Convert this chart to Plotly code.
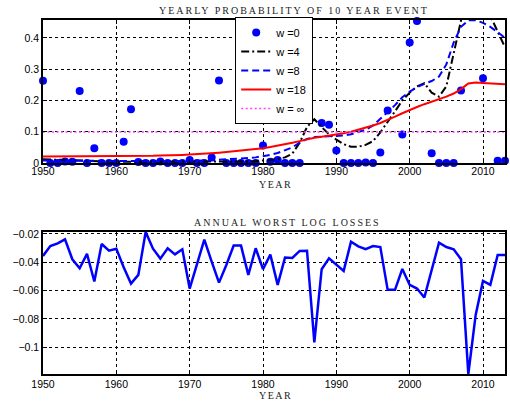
import plotly.graph_objects as go

# ---------------- data ----------------
years = list(range(1950, 2014))

# w = 0 : yearly estimates (None = above the plotted range)
w0 = [0.263, 0.0, 0.0, 0.005, 0.004, 0.230, 0.0, 0.047, 0.0, 0.0,
      0.0, 0.068, 0.172, 0.003, 0.0, 0.0, 0.005, 0.0, 0.0, 0.0,
      0.010, 0.0, 0.0, 0.018, 0.264, 0.0, 0.0, 0.0, 0.0, 0.0,
      0.056, 0.004, 0.010, 0.0, 0.0, 0.0, 0.140, None, 0.128, 0.122,
      0.040, 0.0, 0.0, 0.0, 0.002, 0.0, 0.034, 0.168, None, 0.091,
      0.385, 0.454, None, 0.031, 0.0, 0.0, 0.0, 0.232, None, None,
      0.271, None, 0.007, 0.007]

w4 = [0.012, 0.011, 0.010, 0.010, 0.009, 0.008, 0.006, 0.005, 0.004, 0.004,
      0.004, 0.004, 0.004, 0.004, 0.003, 0.003, 0.003, 0.003, 0.003, 0.004,
      0.004, 0.004, 0.004, 0.005, 0.005, 0.005, 0.005, 0.005, 0.005, 0.006,
      0.007, 0.010, 0.013, 0.018, 0.030, 0.065, 0.115, 0.140, 0.115, 0.092,
      0.075, 0.060, 0.052, 0.052, 0.058, 0.070, 0.098, 0.130, 0.165, 0.200,
      0.225, 0.245, 0.255, 0.225, 0.212, 0.245, 0.345, 0.440, 0.560, 0.570,
      0.520, 0.470, 0.415, 0.370]

w8 = [0.008, 0.008, 0.008, 0.008, 0.008, 0.008, 0.007, 0.007, 0.007, 0.006,
      0.006, 0.006, 0.006, 0.006, 0.006, 0.005, 0.005, 0.005, 0.005, 0.006,
      0.006, 0.007, 0.008, 0.009, 0.010, 0.011, 0.012, 0.014, 0.016, 0.018,
      0.021, 0.026, 0.032, 0.040, 0.050, 0.065, 0.077, 0.083, 0.084, 0.085,
      0.086, 0.088, 0.092, 0.098, 0.106, 0.120, 0.140, 0.163, 0.185, 0.210,
      0.228, 0.242, 0.253, 0.262, 0.276, 0.315, 0.385, 0.435, 0.456, 0.456,
      0.448, 0.435, 0.418, 0.400]

w18 = [0.021, 0.021, 0.021, 0.021, 0.021, 0.021, 0.021, 0.021, 0.022, 0.022,
       0.022, 0.022, 0.022, 0.023, 0.023, 0.023, 0.024, 0.024, 0.025, 0.026,
       0.027, 0.028, 0.029, 0.031, 0.033, 0.035, 0.037, 0.039, 0.042, 0.044,
       0.047, 0.051, 0.055, 0.060, 0.065, 0.070, 0.076, 0.081, 0.084, 0.087,
       0.091, 0.095, 0.100, 0.106, 0.113, 0.120, 0.128, 0.137, 0.148, 0.159,
       0.170, 0.179, 0.188, 0.196, 0.203, 0.212, 0.222, 0.236, 0.254, 0.257,
       0.256, 0.255, 0.253, 0.252]

w_inf = 0.099

losses = [-0.0355, -0.0285, -0.0266, -0.0238, -0.0379, -0.0442, -0.0341, -0.0536, -0.0271, -0.0318,
          -0.0304, -0.0435, -0.0551, -0.0489, -0.0186, -0.0304, -0.0374, -0.0301, -0.0344, -0.0308,
          -0.0586, -0.0419, -0.0240, -0.0395, -0.0544, -0.0419, -0.0282, -0.0282, -0.0489, -0.0301,
          -0.0449, -0.0346, -0.0560, -0.0367, -0.0369, -0.0320, -0.0318, -0.0967, -0.0449, -0.0372,
          -0.0414, -0.0461, -0.0254, -0.0287, -0.0308, -0.0285, -0.0292, -0.0595, -0.0595, -0.0447,
          -0.0560, -0.0586, -0.0649, -0.0454, -0.0261, -0.0292, -0.0308, -0.0379, -0.1190, -0.0772,
          -0.0532, -0.0560, -0.0348, -0.0348]

x_ticks = [1950, 1960, 1970, 1980, 1990, 2000, 2010]
top_y_ticks = [0, 0.1, 0.2, 0.3, 0.4]
bot_y_ticks = [-0.1, -0.08, -0.06, -0.04, -0.02]

legend_names = ["w =0", "w =4", "w =8", "w =18", "w = \u221e"]

# ---------------- figure ----------------
fig = go.Figure()

fig.add_trace(go.Scatter(x=years, y=w0, mode="markers", name=legend_names[0],
                         marker=dict(color="#0000ff", size=8, line=dict(width=0)),
                         cliponaxis=False, xaxis="x", yaxis="y"))
fig.add_trace(go.Scatter(x=years, y=w4, mode="lines", name=legend_names[1],
                         line=dict(color="black", width=2, dash="8px,3px,2px,3px"),
                         xaxis="x", yaxis="y"))
fig.add_trace(go.Scatter(x=years, y=w8, mode="lines", name=legend_names[2],
                         line=dict(color="#0000ff", width=2, dash="7px,4px"),
                         xaxis="x", yaxis="y"))
fig.add_trace(go.Scatter(x=years, y=w18, mode="lines", name=legend_names[3],
                         line=dict(color="#ff0000", width=2),
                         xaxis="x", yaxis="y"))
fig.add_trace(go.Scatter(x=[years[0], years[-1]], y=[w_inf, w_inf], mode="lines",
                         name=legend_names[4],
                         line=dict(color="#ff44ff", width=1.5, dash="2px,2.5px"),
                         xaxis="x", yaxis="y"))

fig.add_trace(go.Scatter(x=years, y=losses, mode="lines", showlegend=False,
                         line=dict(color="#0000ff", width=2.5),
                         xaxis="x2", yaxis="y2"))

tick_font = dict(family="Liberation Sans, Arial, sans-serif", size=10.5, color="black")
axis_common = dict(showline=True, linecolor="black", linewidth=1.5, mirror="ticks",
                   ticks="inside", ticklen=4, tickwidth=1, tickcolor="black",
                   showgrid=True, gridcolor="#000000", gridwidth=1, griddash="dot",
                   zeroline=False, tickfont=tick_font, tickmode="array")

fig.update_layout(
    width=510, height=402,
    margin=dict(l=43, r=3, t=20, b=28),
    paper_bgcolor="white", plot_bgcolor="white",
    legend=dict(x=0.416, y=1.0085, xanchor="left", yanchor="top",
                bgcolor="white", bordercolor="black", borderwidth=1,
                font=dict(family="Liberation Sans, Arial, sans-serif", size=11, color="black"),
                tracegroupgap=0, itemwidth=30),
    xaxis=dict(domain=[0, 1], anchor="y", range=[years[0], years[-1]],
               tickvals=x_ticks, ticklabelstandoff=-2, **axis_common),
    yaxis=dict(domain=[0.596, 1], anchor="x", range=[0, 0.457],
               tickvals=top_y_ticks, **axis_common),
    xaxis2=dict(domain=[0, 1], anchor="y2", range=[years[0], years[-1]],
                tickvals=x_ticks, **axis_common),
    yaxis2=dict(domain=[0, 0.4011], anchor="x2", range=[min(losses), max(losses)],
                tickvals=bot_y_ticks, **axis_common),
)

serif = dict(family="Liberation Serif, Times New Roman, serif", size=10, color="#222222")

def spaced(t, s=2):
    return '<span style="letter-spacing:%spx">%s</span>' % (s, t)

annotations = [
    dict(text=spaced("YEARLY PROBABILITY OF 10 YEAR EVENT"), x=0.544, y=1.0263),
    dict(text=spaced("ANNUAL WORST LOG LOSSES"), x=0.530, y=0.4274),
    dict(text=spaced("YEAR", 1.5), x=0.5036, y=0.5359),
    dict(text=spaced("YEAR", 1.5), x=0.5036, y=-0.0621),
]
for a in annotations:
    fig.add_annotation(xref="paper", yref="paper", showarrow=False,
                       xanchor="center", yanchor="middle", font=serif, **a)

fig.write_html("out.html")
